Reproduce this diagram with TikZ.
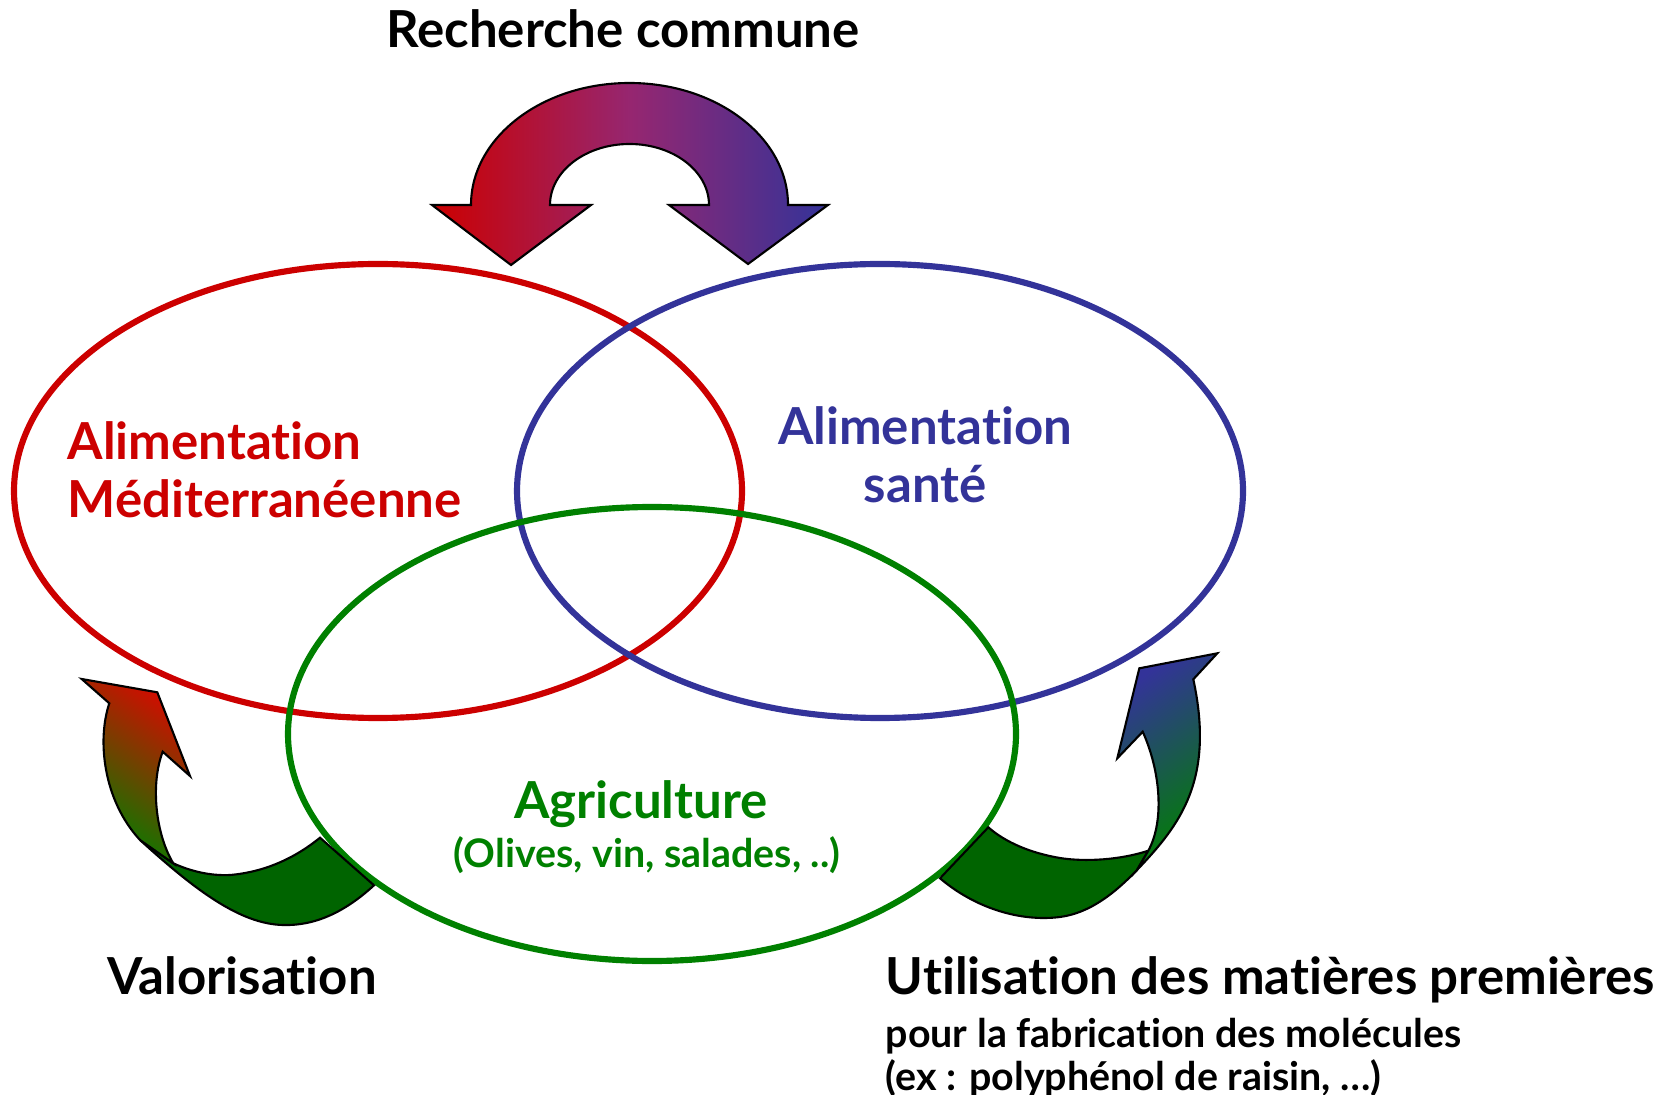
\documentclass[tikz,border=0pt]{standalone}
\usepackage{fontspec}
\setmainfont{Lato}[Ligatures=NoCommon]
\definecolor{medred}{RGB}{204,0,0}
\definecolor{santeblue}{RGB}{51,51,153}
\definecolor{agrigreen}{RGB}{0,128,0}
\definecolor{bandgreen}{RGB}{0,100,0}
\definecolor{midpurple}{RGB}{150,38,112}
\begin{document}
\begin{tikzpicture}[x=0.01cm, y=-0.01cm,
    ring/.style={line width=1.75pt},
    bigarrow/.style={draw=black, line width=0.6pt, line join=miter},
    lbl/.style={font=\bfseries\fontsize{14.5}{16.5}\selectfont, align=center},
    sublbl/.style={font=\bfseries\fontsize{11.2}{12.2}\selectfont, align=left}]
    \useasboundingbox (0,0) rectangle (1680,1095);

    % Venn circles
    \draw[ring, medred] (378,491) ellipse [x radius=364, y radius=227];
    \draw[ring, santeblue] (880,491) ellipse [x radius=363, y radius=227];
    \draw[ring, agrigreen] (652,734) ellipse [x radius=364, y radius=227];

    % Top arrow (two heads)
    \draw[bigarrow, left color=medred, right color=santeblue, middle color=midpurple]
        (432,205) -- (511,265) -- (591,205) -- (550,205)
        arc[start angle=180, end angle=360, x radius=79.5, y radius=61]
        -- (669,205) -- (748,264) -- (828,205) -- (788,205)
        arc[start angle=0, end angle=-180, x radius=158.5, y radius=122]
        -- cycle;

    % Left arrow: band, then shaft and head
    \draw[bigarrow, fill=bandgreen] (320,837.7) -- (374,885.3)
        .. controls (345,912) and (315,926) .. (283,925)
        .. controls (240,924) and (195,890) .. (140,840)
        -- (173.3,863.3)
        .. controls (190,871) and (210,876) .. (230,875)
        .. controls (265,872) and (295,858) .. (320,837.7) -- cycle;
    \draw[bigarrow, top color=medred!90!orange, bottom color=agrigreen, shading angle=-35]
        (109.3,703.3) .. controls (97,740) and (103,800) .. (140,840)
        -- (173.3,863.3) .. controls (156,835) and (150,785) .. (162.7,751.7)
        -- (190,776) -- (157.3,692.3) -- (81.7,679) -- cycle;

    % Right arrow: band, then shaft and head
    \draw[bigarrow, fill=bandgreen] (988.3,827.3) -- (940,878.3)
        .. controls (975,908) and (1020,922) .. (1060,917)
        .. controls (1090,913) and (1115,893) .. (1137,870)
        -- (1148.3,850.7)
        .. controls (1120,860) and (1085,862) .. (1060,858)
        .. controls (1030,853) and (1005,842) .. (988.3,827.3) -- cycle;
    \draw[bigarrow, top color=santeblue, bottom color=agrigreen, shading angle=35]
        (1137,870) .. controls (1180,825) and (1215,780) .. (1193.3,679.3)
        -- (1217.3,653.3) -- (1139.3,668.3) -- (1117.3,758.3) -- (1142.7,731.7)
        .. controls (1160,770) and (1165,820) .. (1148.3,850.7) -- cycle;

    % Labels
    \node[lbl] (recherche) at (623,29) {Recherche commune};
    \node[lbl, medred, align=left, anchor=west, inner sep=0pt] (medit) at (67,470) {Alimentation\\Méditerranéenne};
    \node[lbl, santeblue] (sante) at (925,455) {Alimentation\\santé};
    \node[lbl, agrigreen] (agri) at (641,804) {Agriculture};
    \node[sublbl, agrigreen] (agrisub) at (647,855) {(Olives, vin, salades, ..)};
    \node[lbl] (valor) at (242,976) {Valorisation};
    \node[lbl, anchor=west, inner sep=0pt] (utilis) at (885,980) {Utilisation des matières premières};
    \node[sublbl, anchor=north west, inner sep=0pt] (utilsub) at (885,1018) {pour la fabrication des molécules\\(ex : polyphénol de raisin, …)};
\end{tikzpicture}
\end{document}
